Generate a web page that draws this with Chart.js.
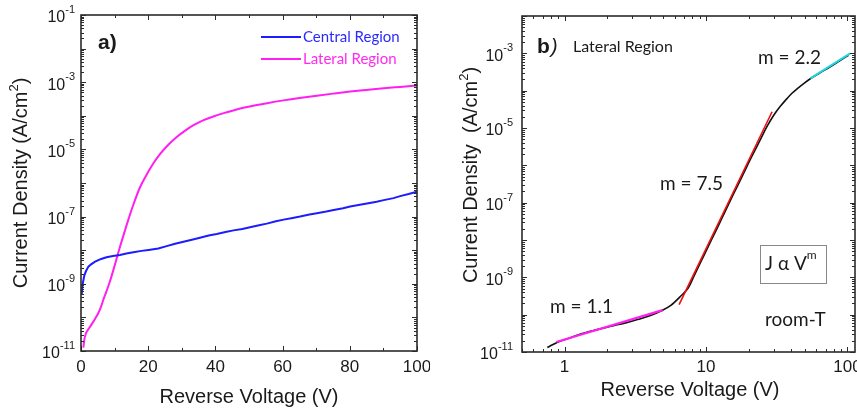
<!DOCTYPE html>
<html><head><meta charset="utf-8">
<script src="https://cdn.jsdelivr.net/npm/chart.js@4.4.1/dist/chart.umd.min.js"></script>
<style>
html,body{margin:0;padding:0;background:#fff;overflow:hidden;}
#wrap{position:relative;width:857px;height:410px;overflow:hidden;background:#fff;}
#ca{position:absolute;left:0;top:0;}
#cb{position:absolute;left:430px;top:0;}
</style></head><body>
<div id="wrap"><canvas id="ca" width="430" height="410"></canvas><canvas id="cb" width="440" height="410"></canvas></div>
<script>
// ---------- Panel a data ----------
const voltageCentralA = [0.2,0.4,0.6,1.0,1.5,2.2,3.0,4.2,6,7.6,9.5,11.6,13.5,15.6,18,20.1,23,25.5,28,30.5,33,35.4,38,40.4,43,45.4,48,50.3,53,55.3,58,60.3,63,65.2,68,70.2,73,75.2,78,80.1,83,85.1,88,90.1,93,95,97.5,100];
const jCentralA = [4.68e-10,7.94e-10,1.12e-9,1.78e-9,2.40e-9,3.24e-9,3.80e-9,4.57e-9,5.50e-9,6.17e-9,6.76e-9,7.24e-9,7.94e-9,8.71e-9,9.55e-9,1.02e-8,1.12e-8,1.32e-8,1.55e-8,1.78e-8,2.04e-8,2.34e-8,2.75e-8,3.02e-8,3.47e-8,3.89e-8,4.27e-8,4.79e-8,5.50e-8,6.17e-8,7.24e-8,8.13e-8,9.12e-8,1.00e-7,1.15e-7,1.26e-7,1.41e-7,1.58e-7,1.78e-7,2.00e-7,2.24e-7,2.45e-7,2.75e-7,3.09e-7,3.55e-7,4.07e-7,4.68e-7,5.50e-7];
const voltageLateralA = [0.7,1.0,1.5,2.2,3.2,4.2,5.2,6.0,6.7,7.6,8.6,9.6,10.6,11.6,12.6,14.0,15.6,17.6,19.6,21.5,23.5,26,28.5,31,33.5,36.5,39.4,42.5,45.4,48,51.3,55,60.3,65,70.2,75,80.1,85,90.1,95,100];
const jLateralA = [1.26e-11,2.19e-11,3.39e-11,4.47e-11,6.31e-11,9.12e-11,1.38e-10,2.14e-10,3.47e-10,6.03e-10,1.17e-9,2.51e-9,5.62e-9,1.26e-8,2.69e-8,7.59e-8,2.29e-7,7.59e-7,1.82e-6,3.80e-6,7.24e-6,1.38e-5,2.34e-5,3.63e-5,5.25e-5,7.41e-5,9.55e-5,1.20e-4,1.45e-4,1.70e-4,2.00e-4,2.34e-4,2.88e-4,3.39e-4,3.98e-4,4.57e-4,5.25e-4,5.89e-4,6.61e-4,7.24e-4,7.94e-4];
const seriesNamesA = ['Central Region','Lateral Region'];
const xTicksA = [0,20,40,60,80,100];
const yTicksA = [1e-11,1e-9,1e-7,1e-5,1e-3,1e-1];

// ---------- Panel b data ----------
const voltageB = [0.755,0.9,1.1,1.31,1.7,2.25,2.7,3.28,4.0,4.8,5.64,6.63,7.5,8.3,9.2,10,11,12,13.4,14.9,16.6,18.5,21.2,24.3,27,30.1,33.5,37.4,40.5,44,49,54.6,64,75.5,88,101.6];
const jB = [1.32e-11,1.86e-11,2.40e-11,3.09e-11,3.98e-11,5.13e-11,6.03e-11,7.41e-11,9.33e-11,1.26e-10,1.78e-10,3.16e-10,5.25e-10,1.17e-9,2.63e-9,5.01e-9,1.07e-8,2.09e-8,5.01e-8,1.17e-7,2.69e-7,6.31e-7,1.82e-6,5.01e-6,1.10e-5,2.19e-5,3.80e-5,6.17e-5,8.51e-5,1.12e-4,1.55e-4,2.09e-4,3.02e-4,4.37e-4,6.31e-4,8.91e-4];
const fitLowV = [0.874, 4.93];   const fitLowJ = [1.86e-11, 1.32e-10];
const fitMidV = [6.45, 29.3];    const fitMidJ = [1.86e-10, 2.72e-5];
const fitHighV = [54.6, 104.5];  const fitHighJ = [2.14e-4, 1.0e-3];
const fitLabelsB = ['m = 1.1','m = 7.5','m = 2.2'];
const xTicksB = [1,10,100];
const yTicksB = [1e-11,1e-9,1e-7,1e-5,1e-3];

// ---------- helpers ----------
const pts = (xs, ys) => xs.map((x, i) => ({x: x, y: ys[i]}));
const FA = '"Liberation Sans", Arial, sans-serif';
const FC = 'Lato, "Open Sans", sans-serif';
const INK = '#1a1a1a';

function logTicks(min, max) {
  const out = [];
  const e0 = Math.floor(Math.log10(min) + 1e-9), e1 = Math.ceil(Math.log10(max) - 1e-9);
  for (let e = e0; e <= e1; e++) for (let k = 1; k <= 9; k++) {
    const v = k * Math.pow(10, e);
    if (v >= min * 0.999 && v <= max * 1.001) out.push({v: v, major: k === 1});
  }
  return out;
}
function linTicks(min, max, minor, major) {
  const out = [];
  for (let v = min; v <= max + 1e-9; v += minor) out.push({v: v, major: Math.abs(v / major - Math.round(v / major)) < 1e-6});
  return out;
}
function drawFrame(chart, xTickList) {
  const ctx = chart.ctx, a = chart.chartArea, xs = chart.scales.x, ys = chart.scales.y;
  ctx.save();
  ctx.strokeStyle = '#2b2b2b';
  ctx.lineWidth = 1;
  ctx.beginPath();
  xTickList.forEach(t => {
    const p = Math.round(xs.getPixelForValue(t.v)) + 0.5, L = t.major ? 5 : 3;
    ctx.moveTo(p, a.bottom); ctx.lineTo(p, a.bottom - L);
    ctx.moveTo(p, a.top); ctx.lineTo(p, a.top + L);
  });
  logTicks(ys.min, ys.max).forEach(t => {
    const p = Math.round(ys.getPixelForValue(t.v)) + 0.5, L = t.major ? 5 : 3;
    ctx.moveTo(a.left, p); ctx.lineTo(a.left + L, p);
    ctx.moveTo(a.right, p); ctx.lineTo(a.right - L, p);
  });
  ctx.stroke();
  ctx.lineWidth = 1.6;
  ctx.strokeRect(a.left, a.top, a.right - a.left, a.bottom - a.top);
  ctx.restore();
}
function drawXLabels(chart, ticks, fmt, size, y) {
  const ctx = chart.ctx, xs = chart.scales.x;
  ctx.save(); ctx.fillStyle = INK; ctx.font = size + 'px ' + FA;
  ctx.textAlign = 'center'; ctx.textBaseline = 'middle';
  ticks.forEach(v => ctx.fillText(fmt(v), xs.getPixelForValue(v), y));
  ctx.restore();
}
function drawYLabels(chart, ticks, rightX) {
  const ctx = chart.ctx, ys = chart.scales.y;
  ctx.save(); ctx.fillStyle = INK; ctx.textAlign = 'left'; ctx.textBaseline = 'middle';
  ticks.forEach(v => {
    const y = ys.getPixelForValue(v);
    const exp = String(Math.round(Math.log10(v)));
    ctx.font = '11px ' + FA; const ew = ctx.measureText(exp).width;
    ctx.font = '16px ' + FA; const bw = ctx.measureText('10').width;
    ctx.fillText('10', rightX - ew - bw, y + 3);
    ctx.font = '11px ' + FA; ctx.fillText(exp, rightX - ew, y - 5);
  });
  ctx.restore();
}
// rotated y title with superscript 2
function drawYTitle(chart, cx, cy, main) {
  const ctx = chart.ctx;
  ctx.save(); ctx.fillStyle = INK; ctx.translate(cx, cy); ctx.rotate(-Math.PI / 2);
  ctx.textBaseline = 'middle'; ctx.textAlign = 'left';
  ctx.font = '20px ' + FA; const w1 = ctx.measureText(main).width, w3 = ctx.measureText(')').width;
  ctx.font = '13px ' + FA; const w2 = ctx.measureText('2').width;
  let x = -(w1 + w2 + w3) / 2;
  ctx.font = '20px ' + FA; ctx.fillText(main, x, 0); x += w1;
  ctx.font = '13px ' + FA; ctx.fillText('2', x, -7); x += w2;
  ctx.font = '20px ' + FA; ctx.fillText(')', x, 0);
  ctx.restore();
}
function drawText(ctx, txt, x, y, font, color, align) {
  ctx.save(); ctx.fillStyle = color || INK; ctx.font = font; ctx.textAlign = align || 'left'; ctx.textBaseline = 'middle';
  ctx.fillText(txt, x, y); ctx.restore();
}

const BLUE = '#1c1cff', MAG = '#ff1ff0', RED = '#ee1010', CYAN = '#1fd6e0';

// ---------- Chart a ----------
const decoA = {
  id: 'decoA',
  afterDraw(chart) {
    const ctx = chart.ctx;
    drawFrame(chart, linTicks(0, 100, 10, 20));
    drawXLabels(chart, xTicksA, v => String(v), 17, 367);
    drawYLabels(chart, yTicksA, chart.chartArea.left - 6);
    drawYTitle(chart, 21, 183, 'Current Density (A/cm');
    drawText(ctx, 'Reverse Voltage (V)', 249, 397, '20px ' + FA, INK, 'center');
    drawText(ctx, 'a)', 98, 43, 'bold 21px ' + FA, INK);
    // legend
    ctx.save(); ctx.lineWidth = 2;
    ctx.strokeStyle = BLUE; ctx.beginPath(); ctx.moveTo(261, 37); ctx.lineTo(301, 37); ctx.stroke();
    ctx.strokeStyle = MAG; ctx.beginPath(); ctx.moveTo(261, 59); ctx.lineTo(301, 59); ctx.stroke();
    ctx.restore();
    drawText(ctx, seriesNamesA[0], 303, 37, '15px ' + FC, '#2a2aff');
    drawText(ctx, seriesNamesA[1], 303, 59, '15px ' + FC, '#ff2af0');
  }
};
new Chart(document.getElementById('ca'), {
  type: 'scatter',
  data: { datasets: [
    { label: seriesNamesA[0], data: pts(voltageCentralA, jCentralA), showLine: true, borderColor: BLUE, borderWidth: 2, pointRadius: 0, tension: 0, order: 1 },
    { label: seriesNamesA[1], data: pts(voltageLateralA, jLateralA), showLine: true, borderColor: MAG, borderWidth: 2, pointRadius: 0, cubicInterpolationMode: 'monotone', order: 2 }
  ]},
  options: {
    responsive: false, animation: false, devicePixelRatio: 1,
    layout: { padding: { left: 81, top: 15, right: 13, bottom: 59 } },
    plugins: { legend: { display: false }, tooltip: { enabled: false } },
    scales: {
      x: { type: 'linear', min: 0, max: 100, display: false },
      y: { type: 'logarithmic', min: 1e-11, max: 1e-1, display: false }
    }
  },
  plugins: [decoA]
});

// ---------- Chart b ----------
const decoB = {
  id: 'decoB',
  afterDraw(chart) {
    const ctx = chart.ctx, xs = chart.scales.x;
    drawFrame(chart, logTicks(xs.min, xs.max));
    drawXLabels(chart, xTicksB, v => String(v), 17, 367);
    drawYLabels(chart, yTicksB, chart.chartArea.left - 9);
    drawYTitle(chart, 41, 175, 'Current Density  (A/cm');
    drawText(ctx, 'Reverse Voltage (V)', 260, 390, '20px ' + FA, INK, 'center');
    drawText(ctx, 'b', 107, 47, 'bold 21px ' + FA, INK);
    drawText(ctx, ')', 121, 47, 'italic 20px ' + FA, INK);
    drawText(ctx, 'Lateral Region', 143, 47, '16px ' + FC, INK);
    drawText(ctx, fitLabelsB[0], 120, 307, '19px ' + FC, INK);
    drawText(ctx, fitLabelsB[1], 230, 184, '19px ' + FC, INK);
    drawText(ctx, fitLabelsB[2], 328, 58, '19px ' + FC, INK);
    // J alpha V^m box
    ctx.save(); ctx.strokeStyle = '#888'; ctx.lineWidth = 1; ctx.strokeRect(330.5, 245.5, 66, 38); ctx.restore();
    drawText(ctx, 'J \u03b1 V', 335, 264, '19px ' + FC, INK);
    ctx.save(); ctx.font = '19px ' + FC; const wj = ctx.measureText('J \u03b1 V').width; ctx.restore();
    drawText(ctx, 'm', 335 + wj, 255, '12px ' + FC, INK);
    drawText(ctx, 'room-T', 335, 320, '19px ' + FC, INK);
  }
};
new Chart(document.getElementById('cb'), {
  type: 'scatter',
  data: { datasets: [
    { label: 'Lateral Region', data: pts(voltageB, jB), showLine: true, borderColor: '#111', borderWidth: 1.6, pointRadius: 0, cubicInterpolationMode: 'monotone', order: 10 },
    { label: fitLabelsB[0], data: pts(fitLowV, fitLowJ), showLine: true, borderColor: MAG, borderWidth: 2.2, pointRadius: 0, order: 1 },
    { label: fitLabelsB[1], data: pts(fitMidV, fitMidJ), showLine: true, borderColor: RED, borderWidth: 1.6, pointRadius: 0, order: 1 },
    { label: fitLabelsB[2], data: pts(fitHighV, fitHighJ), showLine: true, borderColor: CYAN, borderWidth: 2, pointRadius: 0, order: 1 }
  ]},
  options: {
    responsive: false, animation: false, devicePixelRatio: 1,
    layout: { padding: { left: 92, top: 16, right: 15, bottom: 58 } },
    plugins: { legend: { display: false }, tooltip: { enabled: false } },
    scales: {
      x: { type: 'logarithmic', min: 0.5, max: 113, display: false },
      y: { type: 'logarithmic', min: 1e-11, max: 1e-2, display: false }
    }
  },
  plugins: [decoB]
});
</script>
</body></html>
